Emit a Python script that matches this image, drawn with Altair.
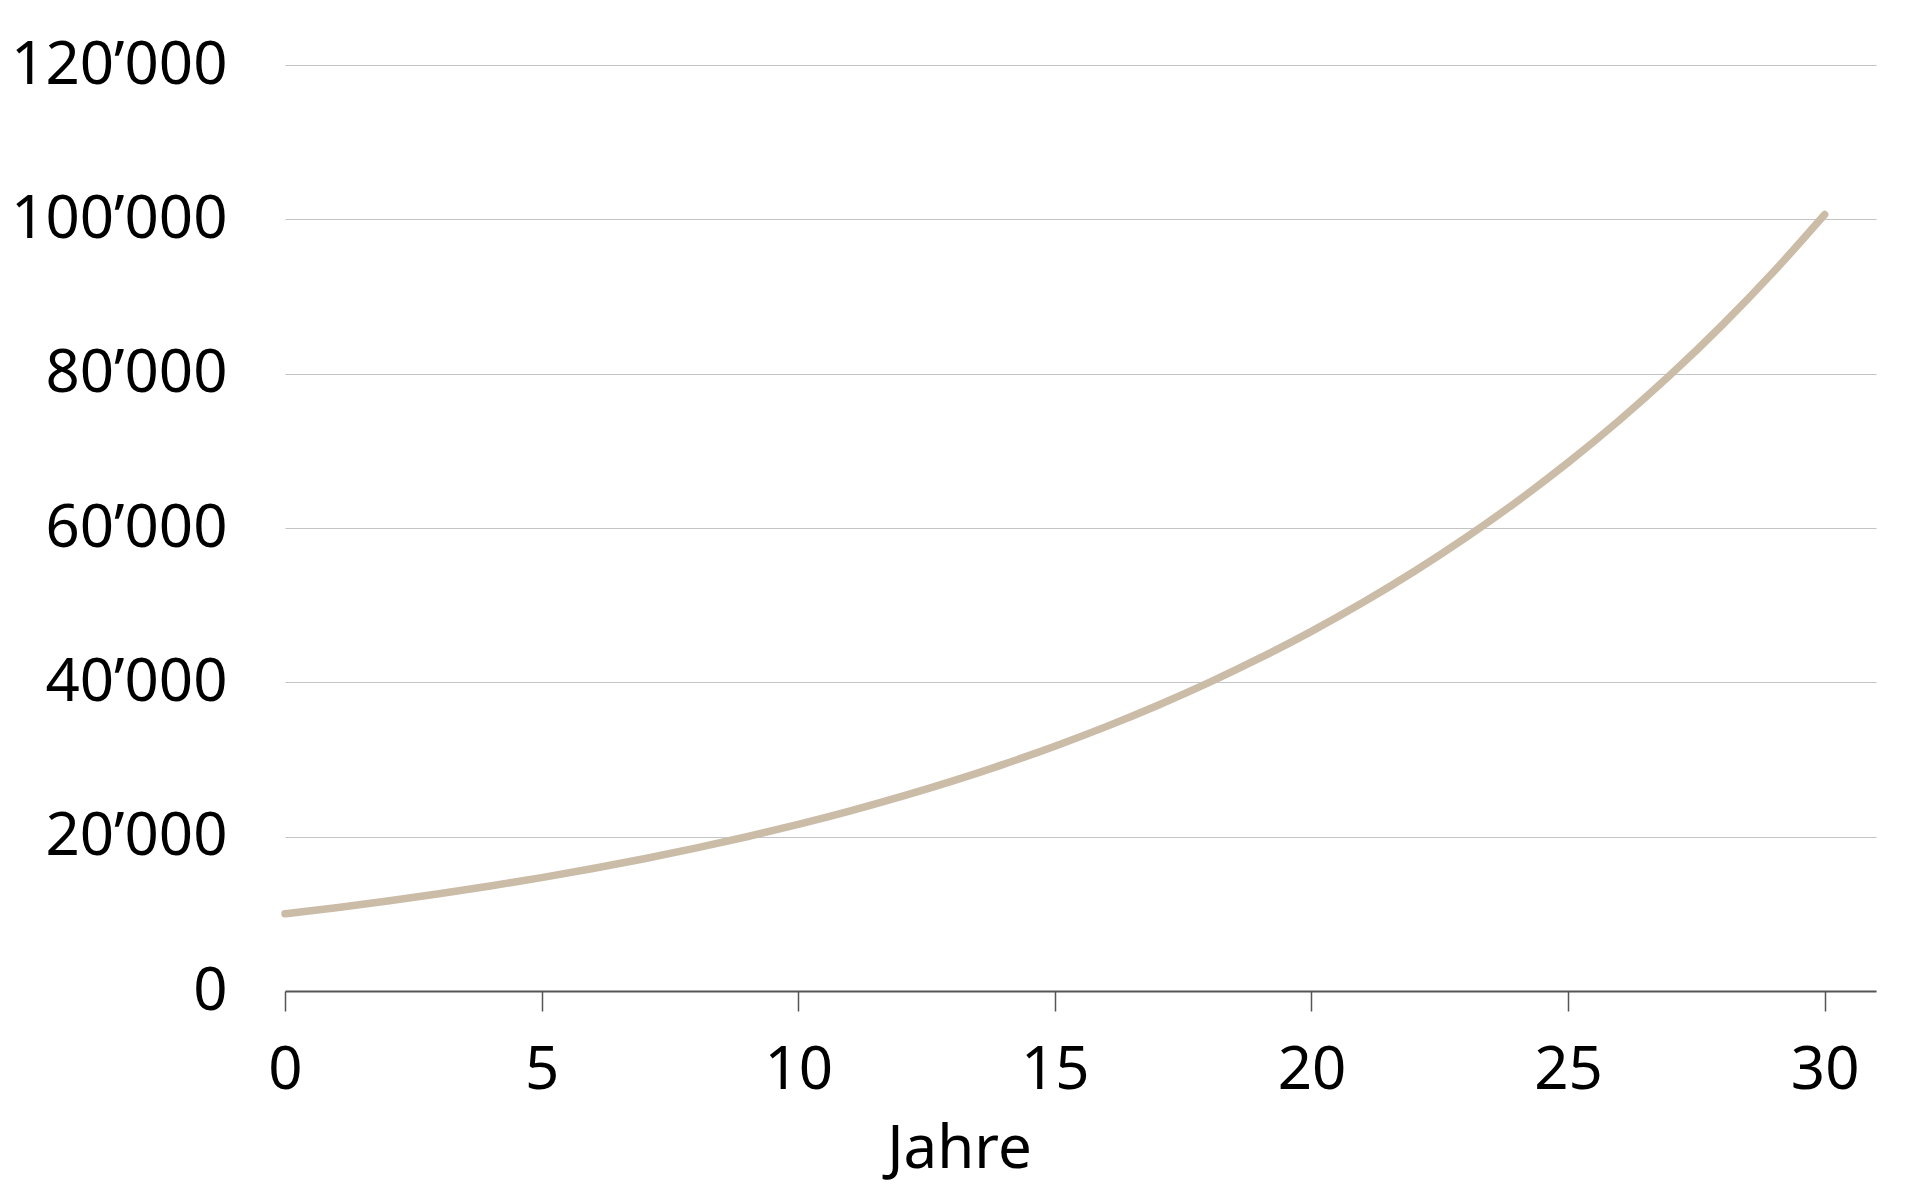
import altair as alt
import pandas as pd

years = list(range(0, 31))
values = [10000, 10800, 11664, 12597, 13605, 14693, 15869, 17138, 18509, 19990,
          21589, 23316, 25182, 27196, 29372, 31722, 34259, 37000, 39960, 43157,
          46610, 50338, 54365, 58715, 63412, 68485, 73964, 79881, 86271, 93173,
          100627]
x_ticks = [0, 5, 10, 15, 20, 25, 30]
y_ticks = [0, 20000, 40000, 60000, 80000, 100000, 120000]
x_title = "Jahre"

df = pd.DataFrame({"Jahr": years, "Wert": values})

FONT = "Noto Sans"

chart = alt.Chart(df).mark_line(
    color="#cbbca8", strokeWidth=7.5, strokeCap="round", interpolate="monotone"
).encode(
    x=alt.X("Jahr:Q",
            scale=alt.Scale(domain=[0, 31], nice=False, zero=False),
            axis=alt.Axis(values=x_ticks, title=x_title, grid=False,
                          domain=True, domainColor="#555555", domainWidth=2,
                          ticks=True, tickColor="#555555", tickWidth=1.5, tickSize=20,
                          labelPadding=30, labelFontSize=60, labelFont=FONT,
                          labelColor="#000000", labelFlush=False, labelLimit=0,
                          titleFont=FONT, titleFontSize=60, titleFontWeight="normal",
                          titleColor="#000000", titleX=674, titleY=176,
                          titleAlign="center", titleBaseline="alphabetic")),
    y=alt.Y("Wert:Q",
            scale=alt.Scale(domain=[0, 120000], nice=False),
            axis=alt.Axis(values=y_ticks, title=None, grid=True,
                          gridColor="#c4c4c4", gridWidth=1.2,
                          domain=False, ticks=False, tickSize=0,
                          labelPadding=58, labelFontSize=60, labelFont=FONT,
                          labelColor="#000000", labelFlush=False, labelLimit=0,
                          labelExpr="replace(format(datum.value, ','), ',', '\u2019')"))
).properties(
    width=1591,
    height=926,
    autosize=alt.AutoSizeParams(type="none"),
    padding={"left": 277, "top": 57, "right": 20, "bottom": 200},
).configure_view(stroke=None)

chart.save("out.html", embed_options={"renderer": "svg", "actions": False})
